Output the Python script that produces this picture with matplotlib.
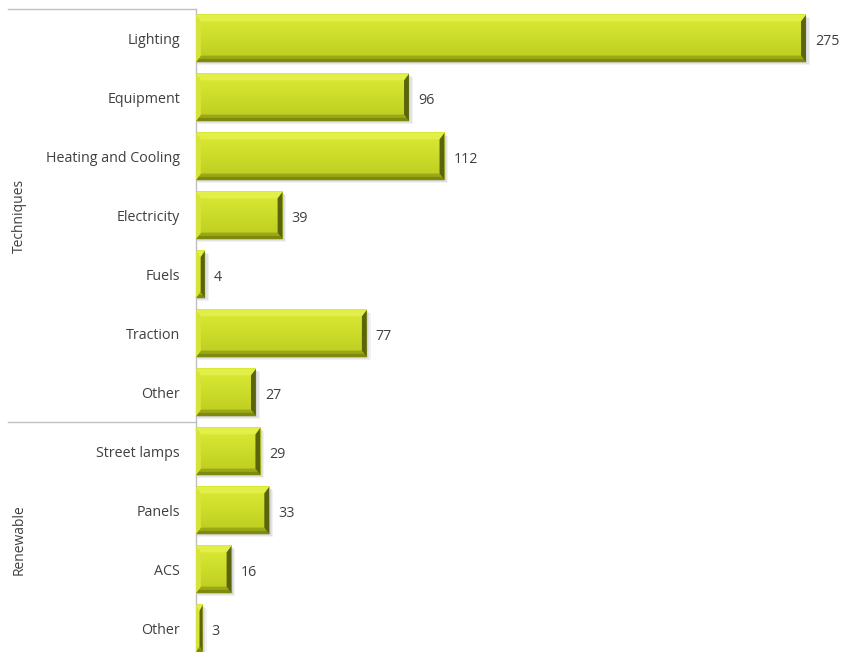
import numpy as np
import matplotlib
matplotlib.use("Agg")
import matplotlib.pyplot as plt
from matplotlib.patches import Polygon, Rectangle
from matplotlib.colors import LinearSegmentedColormap

# ── Data ──────────────────────────────────────────────────────────────────
CATEGORIES = ["Lighting", "Equipment", "Heating and Cooling", "Electricity",
              "Fuels", "Traction", "Other",
              "Street lamps", "Panels", "ACS", "Other"]
VALUES = [275, 96, 112, 39, 4, 77, 27, 29, 33, 16, 3]
GROUPS = ["Techniques", "Renewable"]
GROUP_SIZES = [7, 4]

plt.rcParams["font.family"] = ["Open Sans", "DejaVu Sans"]

TOP = "#e2ef48"
BOTTOM = "#9aa816"
BOTTOM_EDGE = "#7d8a0e"
RIGHT = "#5a640e"
LEFT = "#d6e43a"
AXIS_C = "#bfbfbf"
TEXT_C = "#404040"
face_cmap = LinearSegmentedColormap.from_list(
    "face", ["#dbea34", "#ccdc2a", "#bccb1f"])
grad = np.linspace(0, 1, 64).reshape(-1, 1)

fig = plt.figure(figsize=(8.41, 6.52), dpi=100)
ax = fig.add_axes([196 / 841, -6 / 652, 645 / 841, (652 - 9 + 6) / 652])

n = len(CATEGORIES)
xmax = 290.8

h = 0.80
bx = 2.2     # horizontal bevel (data units)
by = 0.11    # vertical bevel (data units)

for i, v in enumerate(VALUES):
    y0, y1 = i - h / 2, i + h / 2
    # soft shadow
    for k, a in enumerate([0.06, 0.06, 0.05]):
        ax.add_patch(Rectangle((0.3 * (k + 1), y0 + 0.015 * (k + 1)), v + 0.3 * (k + 1), h,
                               facecolor="#000000", alpha=a, edgecolor="none", zorder=1))
    ax.imshow(grad, cmap=face_cmap, aspect="auto", extent=(0, v, y1, y0),
              interpolation="bilinear", zorder=2)
    bxx = min(bx, v / 2)
    # top bevel
    ax.add_patch(Polygon([(0, y0), (v, y0), (v - bxx, y0 + by), (bxx, y0 + by)],
                         closed=True, facecolor=TOP, edgecolor="none", zorder=3))
    # bottom bevel (two tones)
    ax.add_patch(Polygon([(0, y1), (v, y1), (v - bxx, y1 - by), (bxx, y1 - by)],
                         closed=True, facecolor=BOTTOM, edgecolor="none", zorder=3))
    ax.add_patch(Polygon([(0, y1), (v, y1), (v - bxx / 2, y1 - by / 2), (bxx / 2, y1 - by / 2)],
                         closed=True, facecolor=BOTTOM_EDGE, edgecolor="none", zorder=3))
    # right bevel
    ax.add_patch(Polygon([(v, y0), (v, y1), (v - bxx, y1 - by), (v - bxx, y0 + by)],
                         closed=True, facecolor=RIGHT, edgecolor="none", zorder=4))
    # left bevel
    ax.add_patch(Polygon([(0, y0), (0, y1), (bxx, y1 - by), (bxx, y0 + by)],
                         closed=True, facecolor=LEFT, edgecolor="none", zorder=4))
    ax.text(v + 4.0, i + 0.05, str(v), va="center", ha="left",
            fontsize=10.3, color=TEXT_C)

ax.set_xlim(0, xmax)
ax.set_ylim(n - 0.5, -0.5)
ax.set_yticks(range(n))
ax.set_yticklabels(CATEGORIES, fontsize=10.3, color=TEXT_C)
ax.tick_params(axis="y", length=0, pad=11.5)
ax.set_xticks([])
for s in ["top", "right", "bottom"]:
    ax.spines[s].set_visible(False)
ax.spines["left"].set_color(AXIS_C)
ax.spines["left"].set_linewidth(1.0)

# group separators and labels
trans = ax.get_yaxis_transform()
x_line = -188 / 645
start = 0
for g, size in zip(GROUPS, GROUP_SIZES):
    ax.plot([x_line, 0], [start - 0.5, start - 0.5], transform=trans,
            color=AXIS_C, linewidth=1.0, clip_on=False)
    ax.text(-177 / 645, start - 0.5 + size / 2, g, transform=trans, rotation=90,
            va="center", ha="center", fontsize=10, color=TEXT_C)
    start += size

fig.savefig("out.png", dpi=100, facecolor="white")
